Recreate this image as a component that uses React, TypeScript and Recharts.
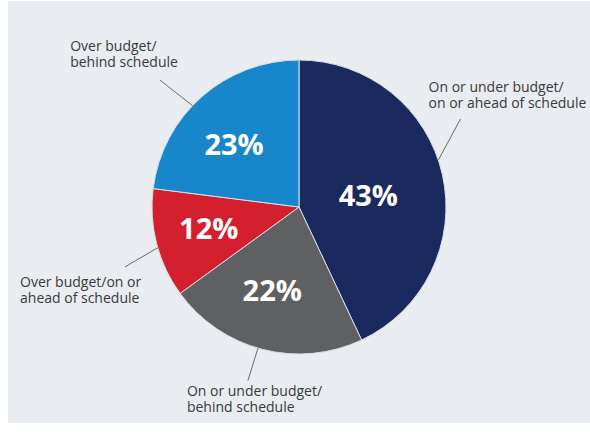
import { PieChart, Pie, Cell } from "recharts";

const categories = [
  ["On or under budget/", "on or ahead of schedule"],
  ["On or under budget/", "behind schedule"],
  ["Over budget/on or", "ahead of schedule"],
  ["Over budget/", "behind schedule"],
];
const shares = [43, 22, 12, 23];
const colors = ["#1b2a5e", "#5f6062", "#d41f2f", "#1886cb"];

const data = categories.map((lines, i) => ({ name: lines.join(" "), value: shares[i] }));

// layout tweaks for each slice's labels (angles in degrees, relative to the slice's mid-angle)
const callouts = [
  { inR: 0.48, inA: -2, startA: 6, endA: 16, endR: 184, dx: -32, dy: -27 },
  { inR: 0.59, inA: -3.6, startA: -1.8, endA: -2, endR: 181, dx: -61, dy: 15 },
  { inR: 0.63, inA: -1.4, startA: 1.7, endA: 4.6, endR: 184, dx: -105, dy: 20 },
  { inR: 0.62, inA: 4, startA: 5, endA: 6.2, endR: 188, dx: -90, dy: -29 },
];

const RAD = Math.PI / 180;
const polar = (cx: number, cy: number, r: number, angle: number) => ({
  x: cx + r * Math.cos(-angle * RAD),
  y: cy + r * Math.sin(-angle * RAD),
});

const renderLabel = (props: any) => {
  const { cx, cy, midAngle, outerRadius, index, value } = props;
  const c = callouts[index];
  const inner = polar(cx, cy, outerRadius * c.inR, midAngle + c.inA);
  const s = polar(cx, cy, outerRadius, midAngle + c.startA);
  const e = polar(cx, cy, c.endR, midAngle + c.endA);
  const tx = e.x + c.dx;
  const ty = e.y + c.dy;
  return (
    <g key={`lbl-${index}`}>
      <text
        x={inner.x}
        y={inner.y}
        fill="#ffffff"
        textAnchor="middle"
        dominantBaseline="central"
        fontFamily="'Open Sans', sans-serif"
        fontWeight={700}
        fontSize={29}
      >
        {`${value}%`}
      </text>
      <line x1={s.x} y1={s.y} x2={e.x} y2={e.y} stroke="#6b6b6b" strokeWidth={1} />
      <text x={tx} y={ty} fill="#3a3a3a" fontFamily="'Open Sans', sans-serif" fontSize={14}>
        {categories[index].map((line, i) => (
          <tspan key={i} x={tx} dy={i === 0 ? 0 : 16}>
            {line}
          </tspan>
        ))}
      </text>
    </g>
  );
};

export default function App() {
  return (
    <div style={{ position: "absolute", left: 0, top: 0, width: 590, height: 436, background: "#ffffff" }}>
      <div style={{ position: "absolute", left: 8, top: 1, width: 582, height: 422, background: "#e9ecf1" }} />
      <div style={{ position: "absolute", left: 0, top: 0 }}>
        <PieChart width={590} height={436} margin={{ top: 0, right: 0, bottom: 0, left: 0 }}>
          <Pie
            data={data}
            dataKey="value"
            nameKey="name"
            cx={299}
            cy={207}
            outerRadius={147}
            startAngle={90}
            endAngle={-270}
            stroke="#d9dee6"
            strokeWidth={1}
            label={renderLabel}
            labelLine={false}
            isAnimationActive={false}
          >
            {data.map((d, i) => (
              <Cell key={d.name} fill={colors[i]} />
            ))}
          </Pie>
        </PieChart>
      </div>
    </div>
  );
}
